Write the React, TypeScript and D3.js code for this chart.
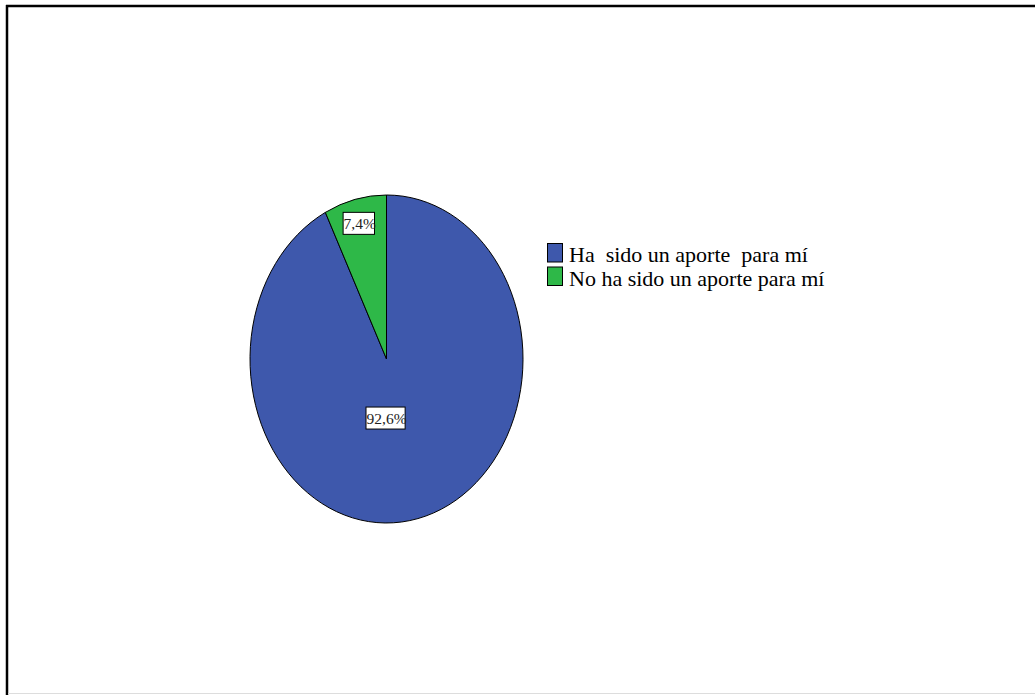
import React, { useEffect, useRef } from "react";
import * as d3 from "d3";

const categories = ["Ha  sido un aporte  para mí", "No ha sido un aporte para mí"];
const values = [92.6, 7.4];
const valueLabels = ["92,6%", "7,4%"];
const colors = ["#3E58AC", "#2EB848"];
const labelRadius = [0.36, 0.85];
const labelAngleShift = [0.232, 0];

const W = 1035;
const H = 695;

export default function App() {
  const ref = useRef<SVGSVGElement>(null);
  useEffect(() => {
    const svg = d3.select(ref.current);
    svg.selectAll("*").remove();
    const font = '"Liberation Serif", "Times New Roman", Times, "DejaVu Serif", serif';

    // frame
    svg.append("line").attr("x1", 6).attr("y1", 6).attr("x2", W).attr("y2", 6)
      .attr("stroke", "#000").attr("stroke-width", 2.5);
    svg.append("line").attr("x1", 7).attr("y1", 5).attr("x2", 7).attr("y2", H)
      .attr("stroke", "#000").attr("stroke-width", 2.5);
    svg.append("line").attr("x1", 8).attr("y1", 693.5).attr("x2", W).attr("y2", 693.5)
      .attr("stroke", "#ddd").attr("stroke-width", 1);

    const cx = 386.5, cy = 359, rx = 136.5, ry = 164;
    const pie = d3.pie<number>().sort(null).startAngle(0).endAngle(2 * Math.PI);
    const arcs = pie(values);
    const arc = d3.arc<d3.PieArcDatum<number>>().innerRadius(0).outerRadius(1);
    const g = svg.append("g").attr("transform", `translate(${cx},${cy}) scale(${rx},${ry})`);
    g.selectAll("path").data(arcs).enter().append("path")
      .attr("d", arc as any)
      .attr("fill", (_d, i) => colors[i])
      .attr("stroke", "#000")
      .attr("stroke-width", 1)
      .attr("vector-effect", "non-scaling-stroke");

    // labels
    arcs.forEach((a, i) => {
      const mid = (a.startAngle + a.endAngle) / 2 + labelAngleShift[i];
      const lx = cx + Math.sin(mid) * labelRadius[i] * rx;
      const ly = cy - Math.cos(mid) * labelRadius[i] * ry;
      const lg = svg.append("g");
      const rect = lg.append("rect");
      const t = lg.append("text")
        .attr("x", lx).attr("y", ly + 5.5)
        .attr("text-anchor", "middle")
        .style("font-family", font).style("font-size", "15.5px").attr("fill", "#222")
        .text(valueLabels[i]);
      const bb = (t.node() as SVGTextElement).getBBox();
      rect.attr("x", bb.x - 0.5).attr("y", ly - 11)
        .attr("width", bb.width - 1).attr("height", 22)
        .attr("fill", "#fff").attr("stroke", "#000").attr("stroke-width", 1);
    });

    // legend
    const lgx = 547.5, lgy = 243.5, step = 23.5;
    categories.forEach((c, i) => {
      svg.append("rect").attr("x", lgx).attr("y", lgy + i * step)
        .attr("width", 15).attr("height", 18.5)
        .attr("fill", colors[i]).attr("stroke", "#000").attr("stroke-width", 1);
      svg.append("text").attr("x", 569).attr("y", lgy + i * step + 18.5)
        .style("font-family", font).style("font-size", "22px").attr("fill", "#000")
        .style("white-space", "pre")
        .text(c);
    });
  }, []);
  return (
    <svg ref={ref} width={W} height={H}
      style={{ position: "absolute", left: 0, top: 0, background: "#fff" }} />
  );
}
